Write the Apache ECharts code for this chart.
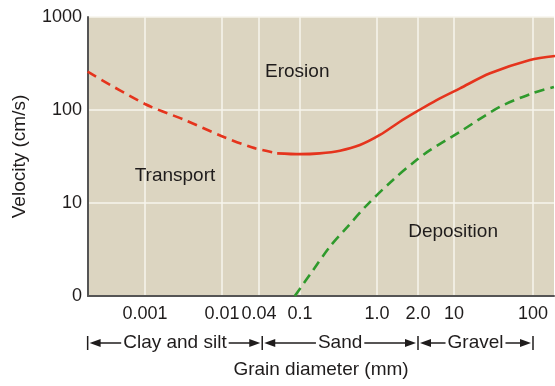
<!DOCTYPE html>
<html><head><meta charset="utf-8">
<script src="https://cdn.jsdelivr.net/npm/echarts@6/dist/echarts.min.js"></script>
<style>html,body{margin:0;padding:0;background:#fff}#c{width:555px;height:386px}</style>
</head><body><div id="c"></div>
<script>
// printed x ticks (grain diameter, mm) and their axis slots (the printed scale is non-uniform)
const tickDiameters = [0.001, 0.01, 0.04, 0.1, 1, 2, 10, 100];
const tickLabels = ['0.001', '0.01', '0.04', '0.1', '1.0', '2.0', '10', '100'];
const tickSlots = [57, 134, 171, 212, 289, 330, 366, 445];
const xMax = 466;

// erosion curve (dashed part, fine grains) : diameter mm / velocity cm/s
const erosionDashD = [0.00018, 0.001, 0.0033, 0.0098, 0.0304, 0.06];
const erosionDashV = [258, 116, 78, 52.6, 39.7, 34.2];
// erosion curve (solid part)
const erosionD = [0.06, 0.1, 0.18, 0.33, 0.6, 1.05, 1.47, 1.95, 4.6, 11.9, 28.6, 91.6, 190];
const erosionV = [34.2, 33.5, 34.2, 36.5, 42, 53.9, 74.8, 96, 128, 171, 248, 345, 381];
// deposition (settling) curve
const depositD = [0.089, 0.148, 0.245, 0.41, 0.74, 1.31, 1.95, 3.42, 11.9, 38, 100, 184];
const depositV = [1, 1.9, 3.4, 5.5, 9.5, 17.7, 29, 37, 58.4, 108, 152, 177];

// region labels
const regionNames = ['Erosion', 'Transport', 'Deposition'];
const regionD = [0.094, 0.00245, 9.6];
const regionV = [256, 19.5, 4.9];

// size classes along the x axis
const bandNames = ['Clay and silt', 'Sand', 'Gravel'];
const bandEdges = [0.00018, 0.043, 2, 100];

const lt = tickDiameters.map(Math.log10);
function slot(d) {
  const L = Math.log10(d);
  let i;
  if (L <= lt[0]) i = 0;
  else if (L >= lt[lt.length - 1]) i = lt.length - 2;
  else { i = 0; while (L > lt[i + 1]) i++; }
  return tickSlots[i] + (L - lt[i]) / (lt[i + 1] - lt[i]) * (tickSlots[i + 1] - tickSlots[i]);
}
const pairs = (D, V) => D.map((d, i) => [slot(d), V[i]]);

const FONT = '"Liberation Sans", Arial, Helvetica, sans-serif';
const TXT = '#1f1c1c';
const RED = '#e5341d';
const GREEN = '#2f9a2c';

const chart = echarts.init(document.getElementById('c'), null, { renderer: 'canvas' });
const option = {
  animation: false,
  textStyle: { fontFamily: FONT },
  grid: { left: 88, right: 1, top: 17, bottom: 90, show: true, backgroundColor: '#dcd5c1', borderWidth: 0 },
  xAxis: {
    type: 'value', min: 0, max: xMax,
    name: 'Grain diameter (mm)', nameLocation: 'middle', nameGap: 64,
    nameTextStyle: { fontSize: 19, color: TXT, fontFamily: FONT },
    axisLine: { show: true, lineStyle: { color: '#555', width: 2 } },
    axisTick: { show: false, customValues: tickSlots },
    axisLabel: {
      customValues: tickSlots, margin: 9, fontSize: 18, color: TXT, fontFamily: FONT,
      formatter: v => { const i = tickSlots.findIndex(s => Math.abs(s - v) < 0.01); return i >= 0 ? tickLabels[i] : ''; }
    },
    splitLine: { show: true, lineStyle: { color: '#f7f4ec', width: 1.5 } }
  },
  yAxis: {
    type: 'log', logBase: 10, min: 1, max: 1000,
    name: 'Velocity (cm/s)', nameLocation: 'middle', nameGap: 59, nameRotate: 90,
    nameTextStyle: { fontSize: 19, color: TXT, fontFamily: FONT },
    axisLine: { show: true, lineStyle: { color: '#555', width: 2 } },
    axisTick: { show: false },
    axisLabel: { margin: 6, fontSize: 18, color: TXT, fontFamily: FONT, formatter: v => (v === 1 ? '0' : String(v)) },
    splitLine: { show: true, lineStyle: { color: '#f7f4ec', width: 1.5 } }
  },
  series: [
    { type: 'line', data: pairs(erosionDashD, erosionDashV), smooth: 0.3, showSymbol: false,
      lineStyle: { color: RED, width: 2.6, type: [10, 6] } },
    { type: 'line', data: pairs(erosionD, erosionV), smooth: 0.3, showSymbol: false,
      lineStyle: { color: RED, width: 2.6 } },
    { type: 'line', data: pairs(depositD, depositV), smooth: 0.3, showSymbol: false,
      lineStyle: { color: GREEN, width: 2.6, type: [10, 6] } },
    { type: 'scatter', symbolSize: 1, silent: true, itemStyle: { opacity: 0 },
      data: regionNames.map((n, i) => ({ value: [slot(regionD[i]), regionV[i]], name: n })),
      label: { show: true, position: 'inside', opacity: 1, formatter: p => p.name, fontSize: 19, color: TXT, fontFamily: FONT } }
  ]
};
chart.setOption(option);

// size-class bracket row
const ctx = document.createElement('canvas').getContext('2d');
ctx.font = '19px ' + FONT;
const yRow = 343;
const g = [];
const edgesPx = bandEdges.map(d => chart.convertToPixel({ xAxisIndex: 0 }, slot(d)));
edgesPx.forEach(x => g.push({ type: 'line', shape: { x1: x, y1: yRow - 7, x2: x, y2: yRow + 7 }, style: { stroke: TXT, lineWidth: 1.5 } }));
bandNames.forEach((name, i) => {
  const x0 = edgesPx[i] + 2, x1 = edgesPx[i + 1] - 2;
  const cx = (x0 + x1) / 2;
  const w = ctx.measureText(name).width;
  g.push({ type: 'text', x: cx, y: yRow, style: { text: name, fontSize: 19, fontFamily: FONT, fill: TXT, align: 'center', verticalAlign: 'middle' } });
  const tl = cx - w / 2 - 2, tr = cx + w / 2 + 2;
  g.push({ type: 'line', shape: { x1: x0 + 8, y1: yRow, x2: tl, y2: yRow }, style: { stroke: TXT, lineWidth: 1.5 } });
  g.push({ type: 'line', shape: { x1: tr, y1: yRow, x2: x1 - 8, y2: yRow }, style: { stroke: TXT, lineWidth: 1.5 } });
  g.push({ type: 'polygon', shape: { points: [[x0, yRow], [x0 + 11, yRow - 4], [x0 + 11, yRow + 4]] }, style: { fill: TXT } });
  g.push({ type: 'polygon', shape: { points: [[x1, yRow], [x1 - 11, yRow - 4], [x1 - 11, yRow + 4]] }, style: { fill: TXT } });
});
chart.setOption({ graphic: g });
</script>
</body></html>
